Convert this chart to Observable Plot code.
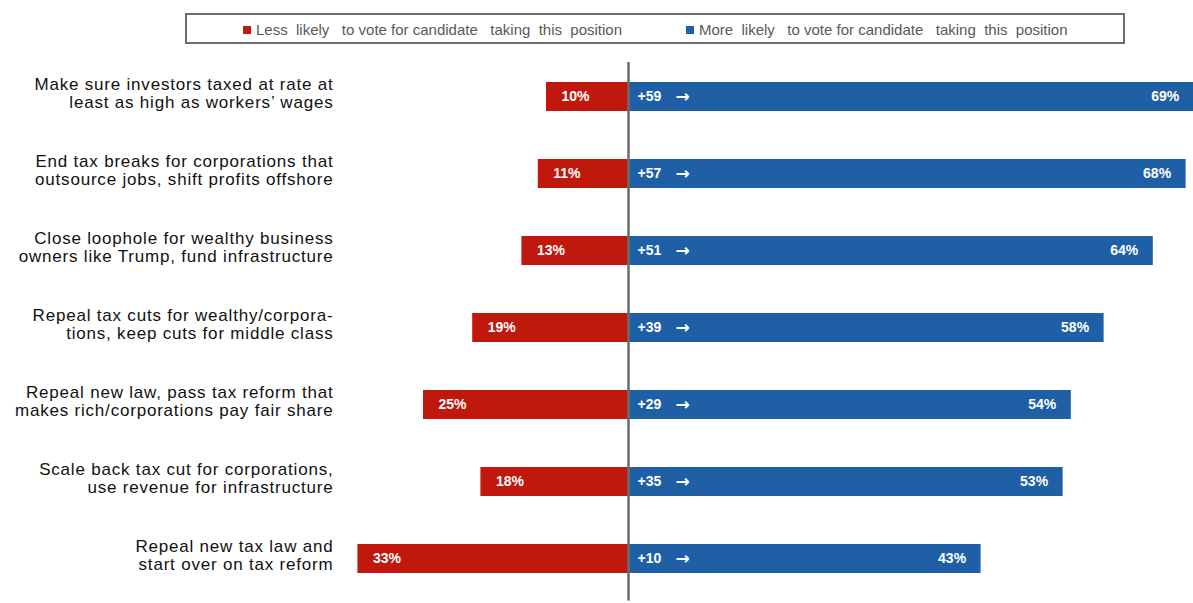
<!DOCTYPE html>
<html>
<head>
<meta charset="utf-8">
<script src="https://cdn.jsdelivr.net/npm/d3@7"></script>
<script src="https://cdn.jsdelivr.net/npm/@observablehq/plot@0.6"></script>
<style>
  html, body { margin: 0; padding: 0; background: #fff; }
  body { width: 1193px; height: 603px; overflow: hidden; font-family: "Liberation Sans", Arial, sans-serif; }
  #legend { position: relative; height: 50px; }
  #legend .box { position: absolute; left: 185px; top: 13px; width: 936px; height: 27px; border: 2px solid #6f6f6f; }
  #legend .item { position: absolute; top: 22px; font-size: 15px; color: #595959; white-space: pre; line-height: 16px; }
  #legend .sw { display: inline-block; width: 8px; height: 8px; margin-right: 5px; vertical-align: 1px; }
  #chart svg { display: block; }
</style>
</head>
<body>
<div id="legend">
  <div class="box"></div>
  <div class="item" style="left:243px"><span class="sw" style="background:#c0180d"></span>Less  likely   to vote for candidate   taking  this  position</div>
  <div class="item" style="left:686px"><span class="sw" style="background:#1f5fa6"></span>More  likely   to vote for candidate   taking  this  position</div>
</div>
<div id="chart"></div>
<script>
const issues = [
  "Make sure investors taxed at rate at\nleast as high as workers’ wages",
  "End tax breaks for corporations that\noutsource jobs, shift profits offshore",
  "Close loophole for wealthy business\nowners like Trump, fund infrastructure",
  "Repeal tax cuts for wealthy/corpora-\ntions, keep cuts for middle class",
  "Repeal new law, pass tax reform that\nmakes rich/corporations pay fair share",
  "Scale back tax cut for corporations,\nuse revenue for infrastructure",
  "Repeal new tax law and\nstart over on tax reform"
];
const lessLikely = [10, 11, 13, 19, 25, 18, 33];
const moreLikely = [69, 68, 64, 58, 54, 53, 43];
const netMore = [59, 57, 51, 39, 29, 35, 10];

const RED = "#c0180d";
const BLUE = "#1f5fa6";

const rows = issues.map((issue, i) => ({
  issue, less: lessLikely[i], more: moreLikely[i], net: netMore[i]
}));

const pxPerPct = 8.2;
const W = 1193, H = 553, ML = 340, zeroX = 628;
const xMin = -(zeroX - ML) / pxPerPct;
const xMax = (W - zeroX) / pxPerPct;

const chart = Plot.plot({
  width: W,
  height: H,
  marginLeft: ML,
  marginRight: 0,
  marginTop: 7,
  marginBottom: 5.5,
  style: { fontFamily: "'Liberation Sans', Arial, sans-serif", background: "#fff" },
  x: { domain: [xMin, xMax], axis: null },
  y: { domain: issues, axis: null, paddingInner: 0.625, paddingOuter: 0.3125 },
  marks: [
    Plot.barX(rows, { y: "issue", x1: d => -d.less, x2: 0, fill: RED }),
    Plot.barX(rows, { y: "issue", x1: 0, x2: "more", fill: BLUE }),
    Plot.ruleX([0], { stroke: "#6b6b6b", strokeWidth: 2.5, insetTop: 5, insetBottom: -3 }),
    Plot.text(rows, { y: "issue", frameAnchor: "left", text: "issue", textAnchor: "end", dx: -7, dy: -4, fontSize: 17, fill: "#111", lineHeight: 1.08 }),
    Plot.text(rows, { y: "issue", x: d => -d.less, text: d => `${d.less}%`, textAnchor: "start", dx: 15, fill: "#fff", fontWeight: "bold", fontSize: 14 }),
    Plot.text(rows, { y: "issue", x: 0, text: d => `+${d.net}`, textAnchor: "start", dx: 9, fill: "#fff", fontWeight: "bold", fontSize: 14 }),
    Plot.text(rows, { y: "issue", x: 0, text: () => "\u2192", textAnchor: "start", dx: 47, fill: "#fff", fontWeight: "bold", fontSize: 17, fontFamily: "DejaVu Sans" }),
    Plot.text(rows, { y: "issue", x: "more", text: d => `${d.more}%`, textAnchor: "end", dx: -15, fill: "#fff", fontWeight: "bold", fontSize: 14 })
  ]
});
const groups = chart.querySelectorAll('g[aria-label="text"]');
if (groups[0]) groups[0].style.letterSpacing = "0.8px";
document.getElementById("chart").appendChild(chart);
</script>
</body>
</html>
